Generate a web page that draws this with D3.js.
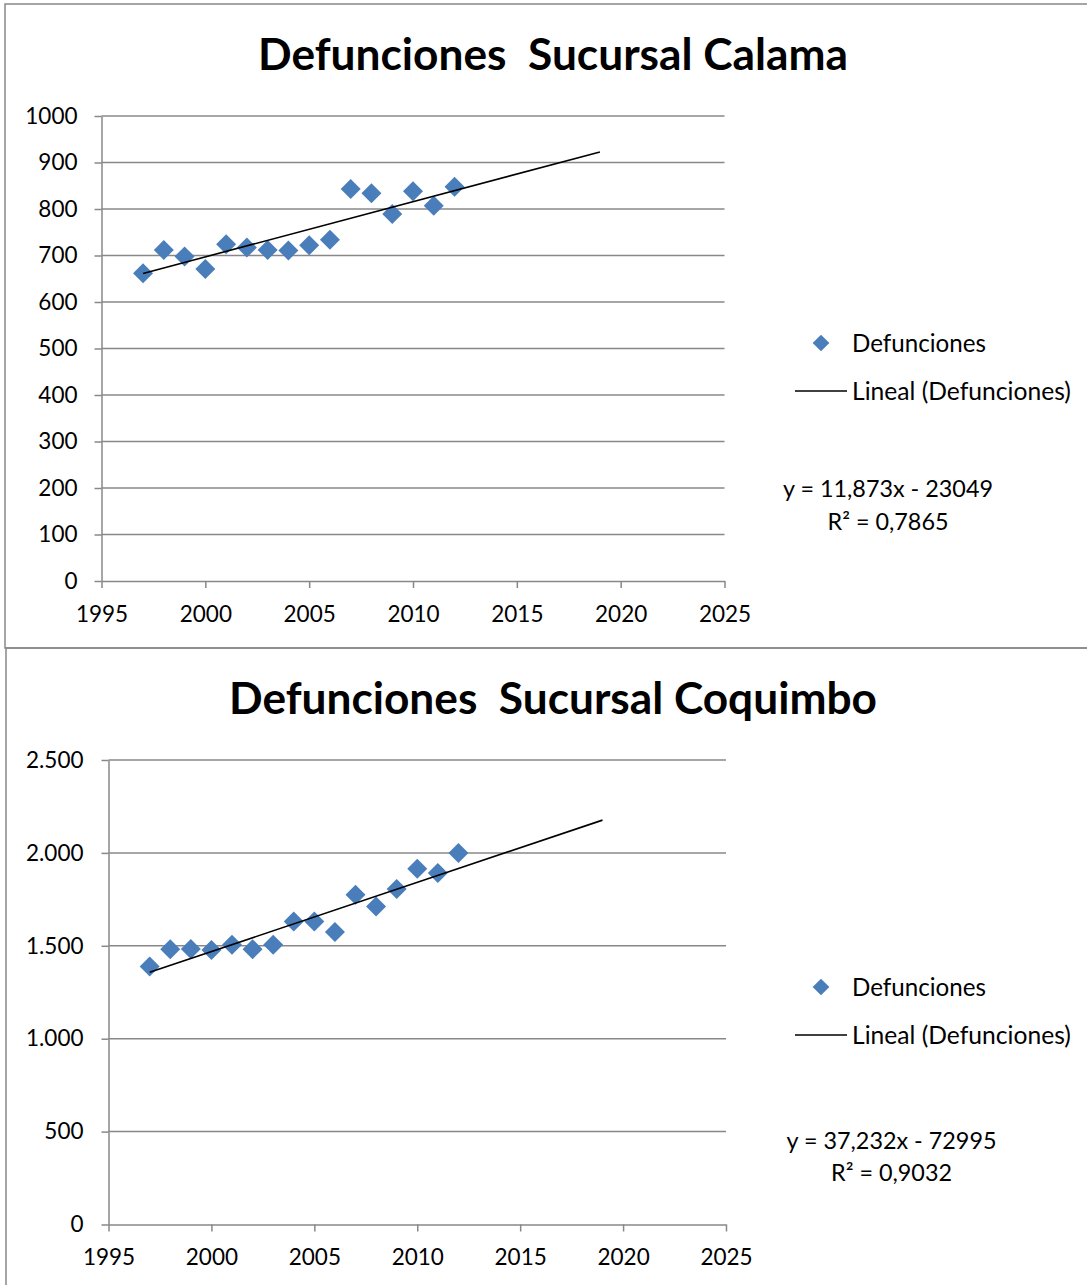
<!DOCTYPE html>
<html>
<head>
<meta charset="utf-8">
<script src="https://cdn.jsdelivr.net/npm/d3@7"></script>
<style>
  body { margin: 0; background: #fff; }
  svg { display: block; font-family: Lato, "Open Sans", sans-serif; }
  text { white-space: pre; }
</style>
</head>
<body>
<svg id="chart" width="1087" height="1285"></svg>
<script>
// ---- data ----
const years = [1997, 1998, 1999, 2000, 2001, 2002, 2003, 2004, 2005, 2006, 2007, 2008, 2009, 2010, 2011, 2012];
const calamaDeaths = [662, 712, 698, 671, 724, 717, 712, 711, 722, 734, 843, 834, 789, 838, 807, 848];
const coquimboDeaths = [1388, 1482, 1483, 1478, 1505, 1482, 1505, 1631, 1631, 1574, 1775, 1712, 1806, 1915, 1892, 2000];

const xTicks = [1995, 2000, 2005, 2010, 2015, 2020, 2025];
const calamaYTicks = [0, 100, 200, 300, 400, 500, 600, 700, 800, 900, 1000];
const coquimboYTicks = [0, 500, 1000, 1500, 2000, 2500];

// linear trend: [slope, intercept], drawn over [from, to]
const calamaTrend = [11.873, -23049];
const coquimboTrend = [37.232, -72995];
const trendSpan = [1997, 2019];

const titles = ["Defunciones  Sucursal Calama", "Defunciones  Sucursal Coquimbo"];
const equationLabels = ["y = 11,873x - 23049", "y = 37,232x - 72995"];
const r2Labels = ["R\u00b2 = 0,7865", "R\u00b2 = 0,9032"];
const seriesName = "Defunciones";
const trendName = "Lineal (Defunciones)";

// ---- styling ----
const BLUE = "#4a7ebb";
const GRID = "#888888";

const esLocale = d3.formatLocale({ decimal: ",", thousands: ".", grouping: [3], currency: ["$", ""] });

const svg = d3.select("#chart");

const panels = [
  {
    values: calamaDeaths, yTicks: calamaYTicks, trend: calamaTrend,
    yFormat: d3.format("d"), top: 0,
    frame: { x: 5, y: 4, h: 644 },
    xRange: [101.5, 724.5], yRange: [581, 116], yMax: 1000,
    titleW: 590, eqX: 888, eqShift: 0, labelPad: 17
  },
  {
    values: coquimboDeaths, yTicks: coquimboYTicks, trend: coquimboTrend,
    yFormat: esLocale.format(",d"), top: 644,
    frame: { x: 6, y: 648, h: 700 },
    xRange: [108.5, 726], yRange: [1224.5, 760], yMax: 2500,
    titleW: 648, eqX: 891.5, eqShift: 8, labelPad: 18
  }
];

// shrink/grow a text so that it spans the given width
function fitWidth(sel, width) {
  const node = sel.node();
  const fs = parseFloat(sel.attr("font-size"));
  const w = node.getComputedTextLength();
  sel.attr("font-size", (fs * width / w).toFixed(2));
}

panels.forEach((p, i) => {
  const g = svg.append("g");

  // chart frame
  g.append("rect")
    .attr("x", p.frame.x).attr("y", p.frame.y)
    .attr("width", 1200).attr("height", p.frame.h)
    .attr("fill", "none").attr("stroke", GRID).attr("stroke-width", 1.5);

  const x = d3.scaleLinear().domain([1995, 2025]).range(p.xRange);
  const y = d3.scaleLinear().domain([0, p.yMax]).range(p.yRange);

  // title
  const title = g.append("text")
    .attr("x", 553).attr("y", 70 + p.top)
    .attr("text-anchor", "middle")
    .attr("font-size", 40).attr("font-weight", 700)
    .attr("fill", "#000")
    .text(titles[i]);
  fitWidth(title, p.titleW);

  // horizontal gridlines
  g.append("g").selectAll("line")
    .data(p.yTicks.filter(d => d > 0))
    .join("line")
    .attr("x1", p.xRange[0]).attr("x2", p.xRange[1])
    .attr("y1", d => y(d)).attr("y2", d => y(d))
    .attr("stroke", GRID).attr("stroke-width", 1.5);

  // y axis
  const yAxis = g.append("g")
    .attr("transform", `translate(${p.xRange[0]},0)`)
    .call(d3.axisLeft(y).tickValues(p.yTicks).tickFormat(p.yFormat)
      .tickSize(7).tickSizeOuter(0).tickPadding(p.labelPad));

  // x axis
  const xAxis = g.append("g")
    .attr("transform", `translate(0,${p.yRange[0]})`)
    .call(d3.axisBottom(x).tickValues(xTicks).tickFormat(d3.format("d"))
      .tickSize(7).tickSizeOuter(0).tickPadding(18));

  [yAxis, xAxis].forEach(a => {
    a.selectAll("path, line").attr("stroke", GRID).attr("stroke-width", 1.5);
    a.selectAll("text").attr("fill", "#000").attr("font-size", 22.5)
      .attr("font-family", "Lato, 'Open Sans', sans-serif");
  });

  // data markers
  const diamond = d3.symbol().type(d3.symbolSquare).size(200);
  g.append("g").selectAll("path")
    .data(years.map((yr, k) => [yr, p.values[k]]))
    .join("path")
    .attr("d", diamond)
    .attr("transform", d => `translate(${x(d[0])},${y(d[1])}) rotate(45)`)
    .attr("fill", BLUE);

  // linear trend line
  const f = t => p.trend[0] * t + p.trend[1];
  g.append("line")
    .attr("x1", x(trendSpan[0])).attr("y1", y(f(trendSpan[0])))
    .attr("x2", x(trendSpan[1])).attr("y2", y(f(trendSpan[1])))
    .attr("stroke", "#000").attr("stroke-width", 1.6);

  // legend
  const lg = g.append("g").attr("transform", `translate(0,${p.top})`);
  lg.append("path")
    .attr("d", d3.symbol().type(d3.symbolSquare).size(140))
    .attr("transform", "translate(821,343) rotate(45)")
    .attr("fill", BLUE);
  const t1 = lg.append("text").attr("x", 852).attr("y", 351.5)
    .attr("font-size", 22).attr("fill", "#000").text(seriesName);
  fitWidth(t1, 134);
  lg.append("line")
    .attr("x1", 795).attr("x2", 847).attr("y1", 391).attr("y2", 391)
    .attr("stroke", "#000").attr("stroke-width", 1.6);
  const t2 = lg.append("text").attr("x", 852).attr("y", 399.5)
    .attr("font-size", 22).attr("fill", "#000").text(trendName);
  fitWidth(t2, 219);

  // regression equation
  const e1 = lg.append("text").attr("x", p.eqX).attr("y", 497 + p.eqShift)
    .attr("text-anchor", "middle").attr("font-size", 22).attr("fill", "#000")
    .text(equationLabels[i]);
  fitWidth(e1, 210);
  const e2 = lg.append("text").attr("x", p.eqX).attr("y", 530 + p.eqShift * 0.9)
    .attr("text-anchor", "middle").attr("font-size", 22).attr("fill", "#000")
    .text(r2Labels[i]);
  fitWidth(e2, 121);
});
</script>
</body>
</html>
